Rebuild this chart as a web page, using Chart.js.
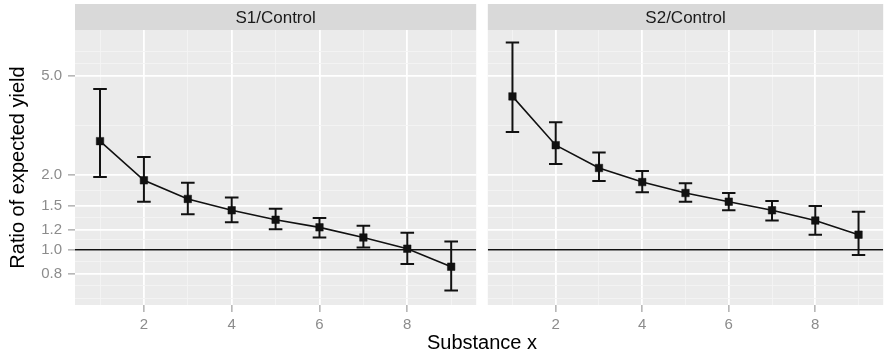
<!DOCTYPE html>
<html>
<head>
<meta charset="utf-8">
<script src="https://cdn.jsdelivr.net/npm/chart.js@4/dist/chart.umd.min.js"></script>
<style>
  html, body { margin: 0; padding: 0; background: #ffffff; }
  #wrap { position: relative; width: 889px; height: 356px; overflow: hidden; font-family: "Liberation Sans", Arial, sans-serif; }
  canvas { position: absolute; top: 0; }
  #c1 { left: 0; }
  #c2 { left: 482px; }
  #xtitle { position: absolute; left: 332px; width: 300px; top: 332px; text-align: center; font-size: 20px; line-height: 20px; color: #000; }
</style>
</head>
<body>
<div id="wrap">
  <canvas id="c1" width="482" height="356"></canvas>
  <canvas id="c2" width="407" height="356"></canvas>
  <div id="xtitle">Substance x</div>
</div>
<script>
// Substance levels
const xs = [1, 2, 3, 4, 5, 6, 7, 8, 9];

// S1 / Control: ratio estimate with lower and upper interval bounds
const s1Mean = [2.73, 1.90, 1.60, 1.44, 1.32, 1.23, 1.12, 1.01, 0.855];
const s1Lo   = [1.96, 1.56, 1.39, 1.29, 1.21, 1.12, 1.02, 0.877, 0.686];
const s1Hi   = [4.42, 2.36, 1.86, 1.62, 1.46, 1.34, 1.25, 1.17, 1.08];

// S2 / Control
const s2Mean = [4.13, 2.63, 2.13, 1.87, 1.69, 1.56, 1.44, 1.31, 1.15];
const s2Lo   = [2.97, 2.21, 1.89, 1.70, 1.56, 1.44, 1.31, 1.15, 0.952];
const s2Hi   = [6.79, 3.25, 2.46, 2.07, 1.85, 1.69, 1.57, 1.50, 1.42];

// Panel titles
const panelLabels = ["S1/Control", "S2/Control"];

// Axis breaks
const xMajor = [2, 4, 6, 8];
const xMinor = [1, 3, 5, 7, 9];
const yMajor = [0.8, 1.0, 1.2, 1.5, 2.0, 5.0];
const yMinor = [0.64, 0.7155, 0.894, 1.0954, 1.3416, 1.7321, 3.1623, 5.5902, 6.25];
const xLimits = [0.43, 9.57];
const yLimits = [0.6085, 7.63];
const refLevel = 1.0;

const FONT = '"Liberation Sans", Arial, sans-serif';
const CAP = 0.155; // half-width of the error-bar caps, in x units

const near = (list, v) => list.some(u => Math.abs(u - v) < 1e-9);

// error bars as broken line segments: stem plus two caps per point
function errorBarPoints(lo, hi) {
  const pts = [];
  xs.forEach((x, i) => {
    pts.push({x: x, y: lo[i]}, {x: x, y: hi[i]}, {x: x, y: null});
    pts.push({x: x - CAP, y: hi[i]}, {x: x + CAP, y: hi[i]}, {x: x, y: null});
    pts.push({x: x - CAP, y: lo[i]}, {x: x + CAP, y: lo[i]}, {x: x, y: null});
  });
  return pts;
}

// facet strip and grey panel background
const panelPlugin = {
  id: 'panel',
  beforeDraw(chart, args, opts) {
    const {ctx, chartArea: a} = chart;
    ctx.save();
    ctx.fillStyle = '#ebebeb';
    ctx.fillRect(a.left, a.top, a.right - a.left, a.bottom - a.top);
    ctx.fillStyle = '#d9d9d9';
    ctx.fillRect(a.left, 4, a.right - a.left, a.top - 4);
    ctx.fillStyle = '#1a1a1a';
    ctx.font = '17px ' + FONT;
    ctx.textAlign = 'center';
    ctx.textBaseline = 'middle';
    ctx.fillText(opts.label, (a.left + a.right) / 2, 18);
    ctx.restore();
  }
};

function makeChart(canvasId, label, mean, lo, hi, showY) {
  return new Chart(document.getElementById(canvasId), {
    type: 'line',
    data: {
      datasets: [
        {
          data: xs.map((x, i) => ({x: x, y: mean[i]})),
          borderColor: '#111111',
          backgroundColor: '#111111',
          borderWidth: 1.6,
          pointStyle: 'rect',
          pointRadius: 5.3,
          pointBorderWidth: 0.5,
          tension: 0
        },
        {
          data: errorBarPoints(lo, hi),
          borderColor: '#111111',
          borderWidth: 2,
          pointRadius: 0,
          spanGaps: false
        },
        {
          data: [{x: xLimits[0], y: refLevel}, {x: xLimits[1], y: refLevel}],
          borderColor: '#111111',
          borderWidth: 1.3,
          pointRadius: 0
        }
      ]
    },
    options: {
      responsive: false,
      animation: false,
      devicePixelRatio: 1,
      events: [],
      layout: { padding: { top: 30, right: showY ? 3 : 0, left: showY ? 0 : 4, bottom: 0 } },
      plugins: {
        legend: { display: false },
        tooltip: { enabled: false },
        panel: { label: label }
      },
      scales: {
        x: {
          type: 'linear',
          min: xLimits[0],
          max: xLimits[1],
          afterBuildTicks: s => { s.ticks = xs.map(v => ({value: v})); },
          afterFit: s => { s.height = 51; },
          border: { display: false },
          grid: {
            color: c => near(xMajor, c.tick.value) ? '#ffffff' : '#f4f4f4',
            lineWidth: c => near(xMajor, c.tick.value) ? 1.8 : 0.9,
            tickColor: c => near(xMajor, c.tick.value) ? '#8a8a8a' : 'rgba(0,0,0,0)',
            tickWidth: 1,
            tickLength: 7,
            drawTicks: true
          },
          ticks: {
            autoSkip: false,
            maxRotation: 0,
            padding: 4,
            color: '#8c8c8c',
            font: { family: FONT, size: 15 },
            callback: v => near(xMajor, v) ? String(v) : ''
          }
        },
        y: {
          type: 'logarithmic',
          min: yLimits[0],
          max: yLimits[1],
          afterBuildTicks: s => { s.ticks = yMajor.concat(yMinor).sort((a, b) => a - b).map(v => ({value: v})); },
          afterFit: s => { s.width = showY ? 75 : 0; },
          border: { display: false },
          title: {
            display: showY,
            text: 'Ratio of expected yield',
            color: '#000000',
            font: { family: FONT, size: 20 },
            padding: { top: 6, bottom: 0 }
          },
          grid: {
            color: c => near(yMajor, c.tick.value) ? '#ffffff' : '#f4f4f4',
            lineWidth: c => near(yMajor, c.tick.value) ? 1.8 : 0.9,
            tickColor: c => near(yMajor, c.tick.value) ? '#8a8a8a' : 'rgba(0,0,0,0)',
            tickWidth: 1,
            tickLength: 7,
            drawTicks: showY
          },
          ticks: {
            display: showY,
            autoSkip: false,
            padding: 6,
            color: '#8c8c8c',
            font: { family: FONT, size: 15 },
            callback: v => near(yMajor, v) ? v.toFixed(1) : ''
          }
        }
      }
    },
    plugins: [panelPlugin]
  });
}

makeChart('c1', panelLabels[0], s1Mean, s1Lo, s1Hi, true);
makeChart('c2', panelLabels[1], s2Mean, s2Lo, s2Hi, false);
</script>
</body>
</html>
